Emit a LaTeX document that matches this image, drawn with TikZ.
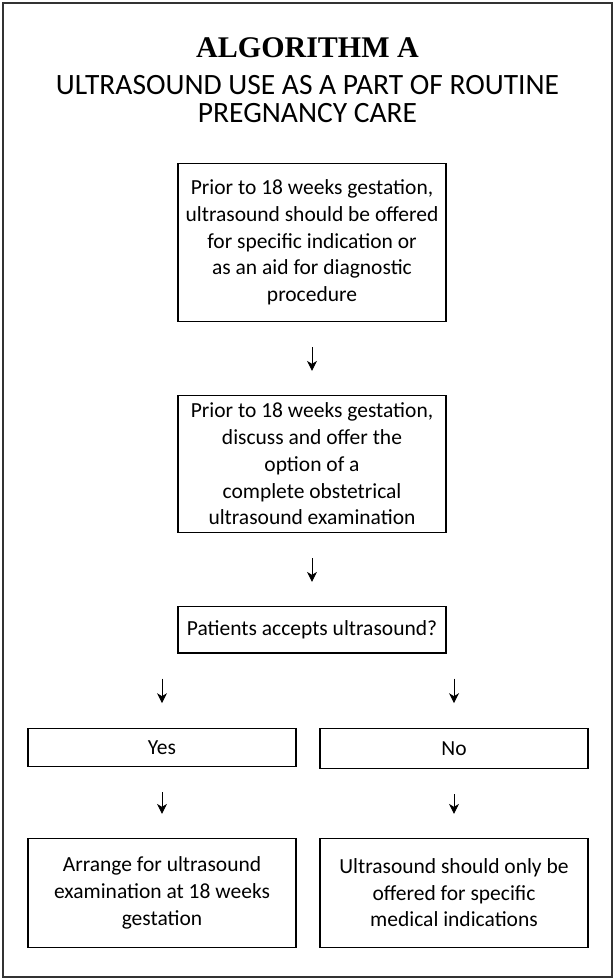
\documentclass[tikz,border=0pt]{standalone}
\usepackage{fontspec}
\setmainfont{Carlito}
\newfontfamily\titlefont{Liberation Serif}
\usetikzlibrary{positioning,arrows.meta}
\tikzset{
  node-box/.style={draw=black,line width=1.2pt,minimum width=268pt,
    align=center,inner sep=3pt,font=\fontsize{21.5}{26.7}\selectfont},
  node-title/.style={font=\titlefont\bfseries\fontsize{30}{32}\selectfont},
  node-subtitle/.style={align=center,font=\fontsize{29.5}{28}\selectfont},
  arrow/.style={-{Stealth[length=10pt,width=10pt,inset=3pt]},line width=0.9pt,
    shorten <=25pt,shorten >=24pt},
  frame/.style={line width=1.4pt,draw=black!80},
}

\begin{document}
\begin{tikzpicture}[x=1pt,y=1pt,node distance=72.8pt]
  \useasboundingbox (0,0) rectangle (615,979);
  \draw[frame] (3,2) rectangle (612,976);
  % title block
  \node[node-title,anchor=base]      (title)    at (307.5,921) {ALGORITHM A};
  \node[node-subtitle,anchor=north]  (subtitle) at (307.5,907)
    {ULTRASOUND USE AS A PART OF ROUTINE\\PREGNANCY CARE};
  % main column
  \node[node-box,minimum height=158pt] (offer) at (312,736.5)
    {Prior to 18 weeks gestation,\\ultrasound should be offered\\for specific indication or\\as an aid for diagnostic\\procedure};
  \node[node-box,minimum height=137pt,below=of offer] (discuss)
    {Prior to 18 weeks gestation,\\discuss and offer the\\option of a\\complete obstetrical\\ultrasound examination};
  \node[node-box,minimum height=46.5pt,below=of discuss] (accept)
    {Patients accepts ultrasound?};
  % two branches
  \node[node-box,minimum height=38pt,below=74.6pt of accept,xshift=-150pt] (yes) {Yes};
  \node[node-box,minimum height=40pt,below=74.6pt of accept,xshift=142pt]  (no)  {No};
  \node[node-box,minimum height=108.7pt,below=70.5pt of yes] (arrange)
    {Arrange for ultrasound\\examination at 18 weeks\\gestation};
  \node[node-box,minimum height=108.7pt,below=68.5pt of no]  (medical)
    {Ultrasound should only be\\offered for specific\\medical indications};
  \draw[arrow] (offer)   -- (discuss);
  \draw[arrow] (discuss) -- (accept);
  \draw[arrow,shorten <=25pt,shorten >=25pt] (accept.south -| yes) -- (yes.north);
  \draw[arrow,shorten <=25pt,shorten >=25pt] (accept.south -| no)  -- (no.north);
  \draw[arrow] (yes) -- (arrange);
  \draw[arrow] (no)  -- (medical);
\end{tikzpicture}
\end{document}
